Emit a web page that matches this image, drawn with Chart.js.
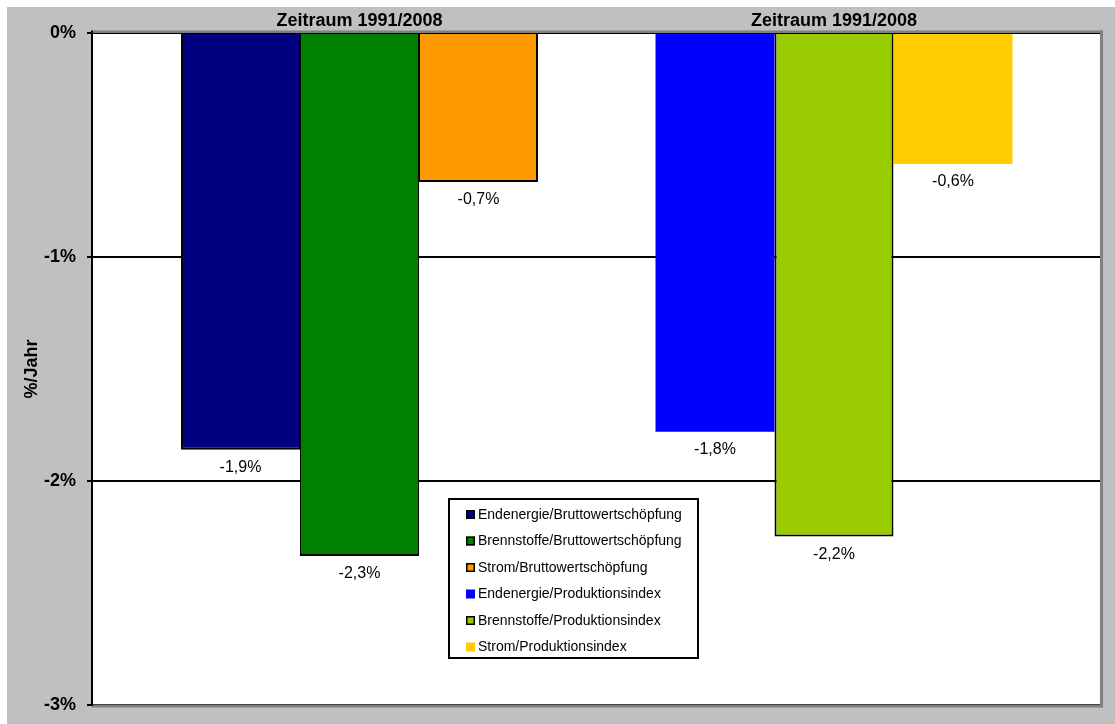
<!DOCTYPE html>
<html><head><meta charset="utf-8">
<script src="https://cdn.jsdelivr.net/npm/chart.js@4/dist/chart.umd.min.js"></script>
<style>html,body{margin:0;padding:0;background:#fff;overflow:hidden}canvas{display:block}</style>
</head><body>
<canvas id="c" width="1115" height="724"></canvas>
<script>
// ---- data ----
const categories = ['Zeitraum 1991/2008', 'Zeitraum 1991/2008'];
const seriesNames = [
  'Endenergie/Bruttowertschöpfung',
  'Brennstoffe/Bruttowertschöpfung',
  'Strom/Bruttowertschöpfung',
  'Endenergie/Produktionsindex',
  'Brennstoffe/Produktionsindex',
  'Strom/Produktionsindex'
];
const endenergieBWS = [-1.86, null];
const brennstoffeBWS = [-2.335, null];
const stromBWS = [-0.665, null];
const endenergiePI = [null, -1.78];
const brennstoffePI = [null, -2.248];
const stromPI = [null, -0.585];
const yTicks = [0, -1, -2, -3];
const yTitle = '%/Jahr';

// ---- styles ----
const FONT = "'Liberation Sans', Arial, sans-serif";
Chart.defaults.font.family = FONT;
Chart.defaults.color = '#000';

const colors = ['#000080', '#008000', '#FF9900', '#0000FF', '#99CC00', '#FFCC00'];
const hasBorder = [true, true, true, false, true, false];
const borderWidths = [
  {top: 0, left: 2, right: 1, bottom: 2},
  {top: 0, left: 1, right: 1, bottom: 2},
  {top: 0, left: 1, right: 2, bottom: 2},
  0,
  {top: 0, left: 2, right: 2, bottom: 2},
  0
];
const seriesData = [endenergieBWS, brennstoffeBWS, stromBWS, endenergiePI, brennstoffePI, stromPI];

const datasets = seriesData.map((d, i) => ({
  label: seriesNames[i],
  data: d,
  backgroundColor: colors[i],
  borderColor: '#000',
  borderWidth: borderWidths[i],
  borderSkipped: 'start',
  barPercentage: 1.0,
  categoryPercentage: 0.7524
}));

const background = {
  id: 'background',
  beforeDraw(chart) {
    const {ctx, chartArea: a} = chart;
    ctx.save();
    ctx.fillStyle = '#fff';
    ctx.fillRect(0, 0, chart.width, chart.height);
    ctx.fillStyle = '#C0C0C0';
    ctx.fillRect(7, 7, chart.width - 7, chart.height - 7);
    ctx.fillStyle = '#fff';
    ctx.fillRect(a.left, a.top, a.right - a.left, a.bottom - a.top);
    ctx.restore();
  }
};

const plotBorder = {
  id: 'plotBorder',
  afterDatasetsDraw(chart) {
    const {ctx, chartArea: a} = chart;
    ctx.save();
    ctx.fillStyle = '#808080';
    ctx.fillRect(a.left, a.top - 2.5, a.right - a.left + 3, 2.5);
    ctx.fillRect(a.right, a.top - 2.5, 3, a.bottom - a.top + 5);
    ctx.fillRect(a.left, a.bottom - 0.5, a.right - a.left + 3, 3);
    ctx.fillStyle = '#000';
    ctx.fillRect(a.left - 1, a.top - 2.5, 2, a.bottom - a.top + 3.5);
    ctx.restore();
  }
};

const valueLabels = {
  id: 'valueLabels',
  afterDatasetsDraw(chart) {
    const ctx = chart.ctx;
    ctx.save();
    ctx.font = '16px ' + FONT;
    ctx.fillStyle = '#000';
    ctx.textAlign = 'center';
    ctx.textBaseline = 'middle';
    chart.data.datasets.forEach((ds, i) => {
      const meta = chart.getDatasetMeta(i);
      meta.data.forEach((el, j) => {
        const v = ds.data[j];
        if (v === null || v === undefined) return;
        ctx.fillText(v.toFixed(1).replace('.', ',') + '%', el.x, el.y + 18);
      });
    });
    ctx.restore();
  }
};

const boxLegend = {
  id: 'boxLegend',
  afterDraw(chart) {
    const {ctx, chartArea: a} = chart;
    const x0 = a.left + 357, y0 = a.top + 466, w = 249, h = 159;
    ctx.save();
    ctx.fillStyle = '#fff';
    ctx.fillRect(x0, y0, w, h);
    ctx.strokeStyle = '#000';
    ctx.lineWidth = 2;
    ctx.strokeRect(x0, y0, w, h);
    ctx.font = '14px ' + FONT;
    ctx.textAlign = 'left';
    ctx.textBaseline = 'middle';
    chart.data.datasets.forEach((ds, i) => {
      const cy = y0 + 15.5 + i * 26.5;
      const mx = x0 + 17;
      ctx.fillStyle = ds.backgroundColor;
      ctx.fillRect(mx, cy - 4.5, 9, 9);
      if (hasBorder[i]) {
        ctx.strokeStyle = '#000';
        ctx.lineWidth = 1.5;
        ctx.strokeRect(mx + 0.75, cy - 3.75, 7.5, 7.5);
      }
      ctx.fillStyle = '#000';
      ctx.fillText(ds.label, x0 + 29, cy + 0.5);
    });
    ctx.restore();
  }
};

new Chart(document.getElementById('c'), {
  type: 'bar',
  data: { labels: categories, datasets: datasets },
  options: {
    responsive: false,
    animation: false,
    devicePixelRatio: 1,
    skipNull: true,
    layout: { padding: { left: 0, top: 0, right: 15, bottom: 19 } },
    plugins: { legend: { display: false }, tooltip: { enabled: false } },
    scales: {
      x: {
        position: 'top',
        grid: { display: false, drawTicks: false, tickLength: 0 },
        border: { display: false },
        ticks: {
          font: { size: 18, weight: 'bold' },
          color: '#000',
          padding: 1,
          maxRotation: 0,
          autoSkip: false
        },
        afterBuildTicks(scale) {
          scale._startValue = -0.5638;
          scale._valueRange = 2.1244;
        },
        afterFit(scale) {
          scale.height = 33;
          scale.paddingLeft = 0;
          scale.paddingRight = 0;
        }
      },
      y: {
        min: Math.min(...yTicks),
        max: Math.max(...yTicks),
        ticks: {
          stepSize: 1,
          font: { size: 18, weight: 'bold' },
          color: '#000',
          padding: 11,
          callback: (v) => v + '%'
        },
        grid: { color: '#000', lineWidth: 2, tickLength: 5, drawTicks: true },
        border: { display: false },
        title: {
          display: true,
          text: yTitle,
          font: { size: 18, weight: 'bold' },
          color: '#000',
          padding: { top: 21, bottom: 0 }
        },
        afterFit(scale) {
          scale.width = 92;
          scale.paddingTop = 0;
          scale.paddingBottom = 0;
        }
      }
    }
  },
  plugins: [background, plotBorder, valueLabels, boxLegend]
});
</script>
</body></html>
